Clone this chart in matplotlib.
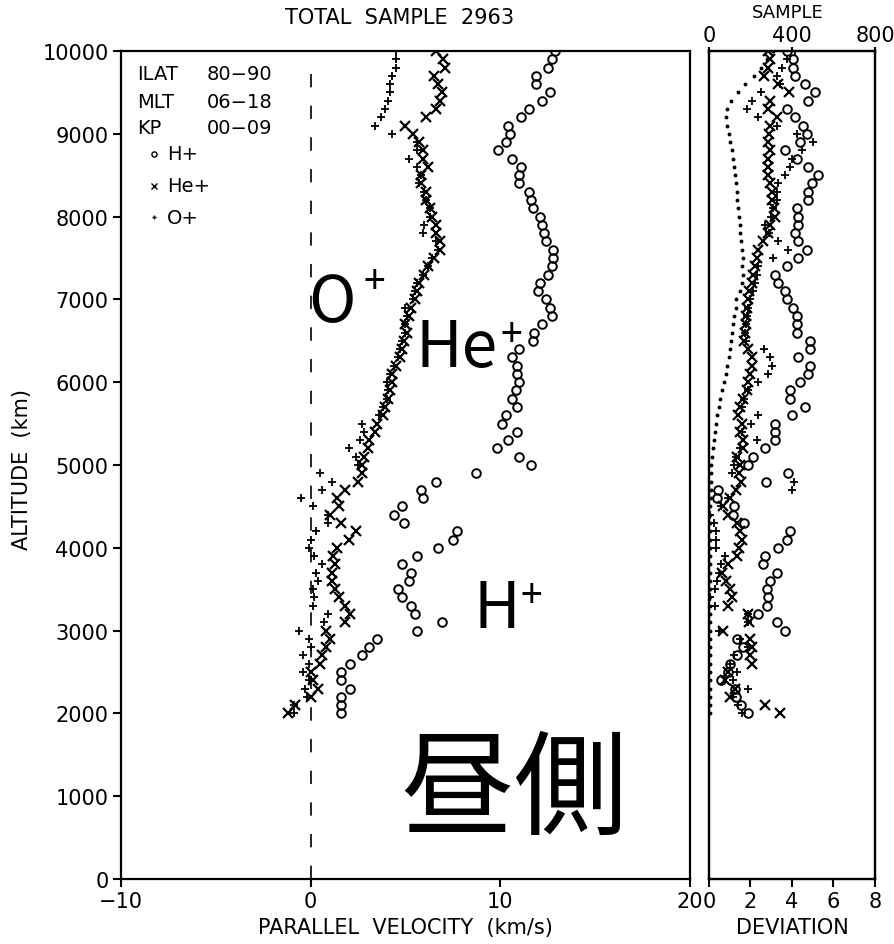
import numpy as np
import matplotlib
matplotlib.use('Agg')
import matplotlib.pyplot as plt

plt.rcParams['font.family'] = ['DejaVu Sans']

# altitude bins, top to bottom (km)
alt = np.arange(10000, 1900, -100)

# mean parallel velocity (km/s)
h_vel = [12.9, 12.7, 12.5, 11.9, 11.9, 12.6, 12.2, 11.5, 11.1, 10.4,
         10.5, 10.3, 9.9, 10.6, 11.1, 11.0, 11.0, 11.5, 11.6, 11.7,
         12.1, 12.2, 12.3, 12.4, 12.8, 12.8, 12.7, 12.5, 12.1, 12.0,
         12.4, 12.6, 12.7, 12.2, 11.8, 11.7, 11.0, 10.6, 10.9, 10.9,
         11.0, 10.8, 10.6, 10.9, 10.3, 10.1, 10.9, 10.4, 9.8, 11.0,
         11.6, 8.7, 6.6, 5.8, 5.9, 4.8, 4.4, 4.9, 7.7, 7.5,
         6.7, 5.6, 4.8, 5.3, 5.2, 4.6, 4.8, 5.3, 5.5, 6.9,
         5.6, 3.5, 3.1, 2.7, 2.1, 1.6, 1.6, 2.1, 1.6, 1.6,
         1.6]
he_vel = [6.6, 7.0, 7.1, 6.5, 6.7, 6.9, 6.8, 6.6, 6.1, 5.0,
          5.4, 5.7, 5.9, 5.9, 6.2, 5.8, 5.8, 6.1, 6.1, 6.3,
          6.4, 6.6, 6.6, 6.8, 6.8, 6.5, 6.2, 6.0, 5.7, 5.6,
          5.5, 5.3, 5.2, 5.0, 5.1, 4.9, 4.8, 4.7, 4.5, 4.3,
          4.3, 4.2, 4.1, 3.9, 3.8, 3.5, 3.4, 3.1, 3.0, 2.8,
          2.7, 2.7, 2.5, 1.8, 1.4, 1.5, 1.0, 1.6, 2.4, 2.0,
          1.4, 1.2, 1.3, 1.1, 1.1, 1.3, 1.5, 1.8, 2.1, 1.8,
          0.8, 1.0, 0.8, 0.6, 0.5, 0.0, 0.1, 0.4, 0.0, -0.8,
          -1.2]
o_vel = [4.5, 4.5, 4.5, 4.3, 4.2, 4.2, 4.1, 3.9, 3.7, 3.4,
         4.3, 5.6, 5.6, 5.2, 5.6, 5.8, 5.7, 6.0, 6.1, 6.3,
         6.3, 6.0, 5.9, 6.6, 6.7, 6.4, 6.2, 5.9, 5.6, 5.5,
         5.4, 5.0, 5.1, 5.0, 5.0, 4.8, 4.7, 4.6, 4.4, 4.2,
         4.0, 4.1, 4.0, 3.8, 3.6, 2.7, 2.8, 2.6, 2.0, 2.4,
         2.5, 0.5, 1.1, 0.6, -0.5, 0.1, 0.9, 0.9, 0.3, 0.0,
         -0.1, 0.2, 0.6, 0.3, 0.4, 0.1, 0.2, 0.1, 0.9, 0.7,
         -0.6, -0.1, 0.0, -0.4, -0.1, -0.4, -0.1, -0.3, -0.2, -0.9,
         -0.9]

# standard deviation of the velocity
h_dev = [3.74, 4.07, 4.07, 4.14, 4.63, 5.1, 4.79, 3.74, 4.14, 4.55,
         4.71, 4.39, 3.66, 4.23, 4.79, 5.27, 4.95, 4.79, 4.79, 4.23,
         4.31, 4.31, 4.14, 4.31, 4.71, 4.31, 3.74, 3.18, 3.34, 3.66,
         3.74, 4.07, 4.23, 4.23, 4.23, 4.87, 4.87, 4.31, 4.87, 4.79,
         4.4, 3.9, 3.9, 4.63, 3.99, 3.18, 3.18, 3.18, 2.7, 2.14,
         1.9, 3.82, 2.74, 0.45, 0.37, 1.2, 1.17, 1.68, 3.9, 3.74,
         3.34, 2.72, 2.62, 3.3, 2.94, 2.8, 2.86, 2.8, 2.36, 3.3,
         3.65, 1.33, 1.65, 1.37, 1.0, 0.9, 0.58, 1.25, 1.3, 1.55,
         1.88]
he_dev = [2.86, 2.94, 2.86, 2.65, 3.34, 3.87, 2.94, 2.86, 3.3, 2.94,
          2.9, 2.86, 2.94, 2.86, 2.86, 2.86, 2.94, 3.02, 3.02, 3.14,
          3.18, 2.94, 2.82, 2.62, 2.38, 2.3, 2.22, 2.14, 2.06, 1.94,
          1.9, 1.82, 1.78, 1.78, 1.74, 1.69, 1.9, 2.06, 2.06, 1.98,
          1.9, 1.82, 1.65, 1.49, 1.41, 1.57, 1.49, 1.65, 1.65, 1.33,
          1.49, 1.45, 1.55, 1.3, 1.0, 0.69, 0.9, 1.33, 1.5, 1.6,
          1.45, 1.33, 0.93, 0.61, 0.8, 1.01, 1.1, 0.93, 1.9, 1.95,
          0.69, 1.98, 2.06, 2.0, 2.06, 0.93, 0.77, 1.25, 1.01, 2.7,
          3.42]
o_dev = [4.14, 3.74, 3.5, 3.26, 3.42, 2.49, 2.06, 1.82, 2.38, 3.3,
         4.23, 5.03, 4.47, 3.99, 3.9, 3.66, 3.34, 3.26, 3.26, 3.1,
         3.0, 2.7, 2.9, 3.34, 3.82, 3.1, 2.38, 2.3, 2.2, 2.1,
         2.0, 1.9, 1.85, 1.8, 1.75, 1.8, 2.64, 2.94, 3.02, 2.86,
         2.38, 1.9, 1.7, 1.6, 2.34, 2.02, 1.6, 2.3, 1.5, 1.3,
         1.2, 1.1, 4.1, 3.98, 0.9, 0.6, 0.05, 0.25, 0.33, 0.33,
         0.33, 0.77, 0.6, 0.5, 0.4, 0.3, 0.05, 0.3, 1.88, 1.9,
         0.5, 1.5, 1.9, 1.2, 1.0, 1.33, 1.17, 1.9, 1.17, 1.4,
         1.6]

# number of samples per altitude bin
n_sample = [310, 280, 250, 215, 175, 140, 105, 85, 80, 85,
            95, 100, 110, 115, 120, 125, 130, 135, 135, 140,
            145, 150, 150, 155, 160, 165, 160, 165, 160, 150,
            130, 130, 120, 115, 110, 105, 100, 95, 85, 80,
            70, 62, 55, 48, 40, 35, 30, 25, 20, 15,
            12, 10, 9, 8, 8, 7, 7, 6, 6, 6,
            6, 6, 5, 5, 5, 5, 5, 5, 5, 5,
            5, 5, 5, 5, 5, 5, 5, 5, 4, 4,
            4]

W, H = 895, 945


def fx(px):
    return px / W


def fy(py):
    return 1 - py / H


fig = plt.figure(figsize=(W / 100, H / 100), dpi=100)
ax = fig.add_axes([fx(121), fy(880), (690 - 121) / W, (880 - 52) / H])
ax2 = fig.add_axes([fx(709), fy(880), (875 - 709) / W, (880 - 52) / H])

circ = dict(marker='o', ms=6.2, mfc='none', mec='k', mew=1.4, ls='none')
cross = dict(marker='x', ms=7.5, mec='k', mew=1.6, ls='none')
plus = dict(marker='+', ms=5.5, mec='k', mew=1.3, ls='none')

# velocity profiles
ax.plot(h_vel, alt, **circ)
ax.plot(he_vel, alt, **cross)
ax.plot(o_vel, alt, **plus)
ax.plot([0, 0], [0, 9850], color='k', lw=1.2, ls=(0, (8, 11)))

ax.set_xlim(-10, 20)
ax.set_ylim(0, 10000)
ax.set_xticks([-10, 0, 10, 20])
ax.set_yticks(range(0, 10001, 1000))

# deviation profiles and sample counts
ax2.plot(h_dev, alt, **circ)
ax2.plot(he_dev, alt, **cross)
ax2.plot(o_dev, alt, **plus)
ax2.set_xlim(0, 8)
ax2.set_ylim(0, 10000)
ax2.set_xticks([0, 2, 4, 6, 8])
ax2.set_yticks([])

top = ax2.twiny()
top.plot(n_sample, alt, ls='none', marker='o', ms=1.8, color='k')
top.set_xlim(0, 800)
top.set_xticks([0, 400, 800])

for a in (ax, ax2, top):
    for s in a.spines.values():
        s.set_linewidth(1.6)
    a.tick_params(direction='out', length=6, width=1.5, labelsize=15, pad=3)
top.tick_params(length=3, pad=1)

fs = 15
fig.text(fx(400), fy(18), 'TOTAL  SAMPLE  2963', ha='center', va='center', fontsize=fs)
fig.text(fx(788), fy(13), 'SAMPLE', ha='center', va='center', fontsize=13)
fig.text(fx(405), fy(928), 'PARALLEL  VELOCITY  (km/s)', ha='center', va='center', fontsize=fs)
fig.text(fx(792), fy(928), 'DEVIATION', ha='center', va='center', fontsize=fs)
fig.text(fx(22), fy(470), 'ALTITUDE  (km)', ha='center', va='center', rotation=90, fontsize=fs)

# selection criteria and symbol key
for py, key, val in [(75, 'ILAT', '80\u221290'), (102, 'MLT', '06\u221218'), (129, 'KP', '00\u221209')]:
    fig.text(fx(137), fy(py), key, ha='left', va='center', fontsize=14)
    fig.text(fx(207), fy(py), val, ha='left', va='center', fontsize=14)
for py, style, name in [(155, circ, 'H+'), (187, cross, 'He+'), (218, plus, 'O+')]:
    st = dict(style)
    st['ms'] = st['ms'] * 0.6
    st['mew'] = 1.0
    ax.plot([fx(154)], [fy(py)], transform=fig.transFigure, clip_on=False, **st)
    fig.text(fx(167), fy(py), name, ha='left', va='center', fontsize=14)

# ion labels: element name with a separate, smaller superscript sign
big = ['Noto Sans CJK SC', 'DejaVu Sans']
for x, y, name, sx, sy in [(-0.15, 6739, 'O', 3.37, 7080),
                           (5.55, 6195, 'He', 10.6, 6440),
                           (8.6, 3043, 'H', 11.65, 3290)]:
    ax.text(x, y, name, fontsize=46, family=big, ha='left', va='baseline')
    ax.text(sx, sy, '+', fontsize=28, family=big, ha='center', va='baseline')
ax.text(10.75, 1050, '昼側', fontsize=82, family=big, ha='center', va='center')

fig.savefig('out.png', dpi=100)
